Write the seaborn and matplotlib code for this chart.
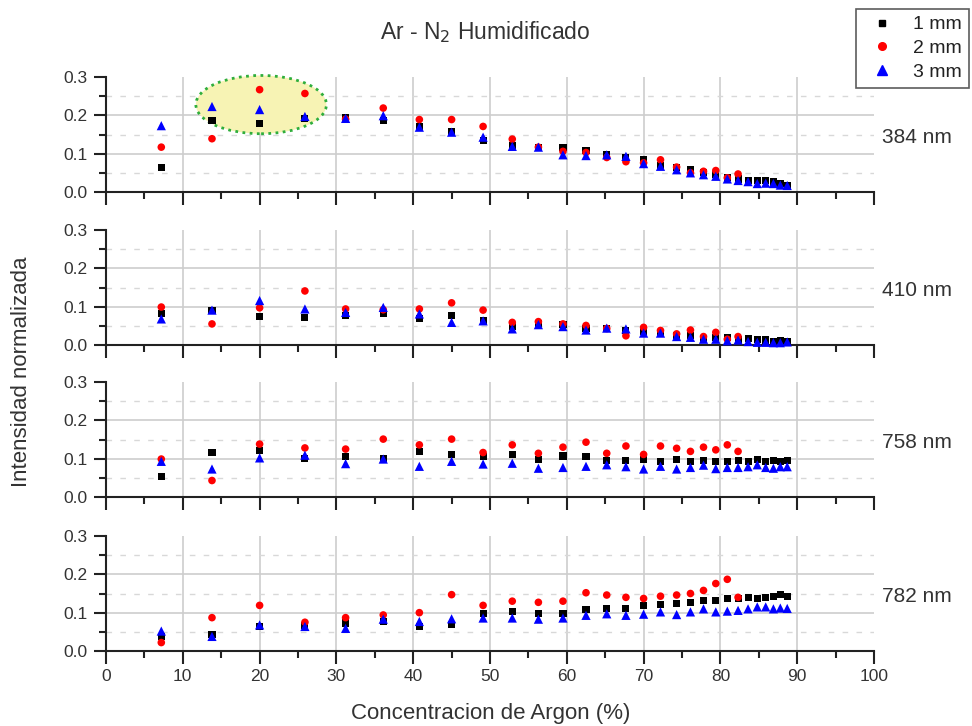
import numpy as np
import pandas as pd
import matplotlib
matplotlib.use("Agg")
import matplotlib.pyplot as plt
from matplotlib.patches import Ellipse
from matplotlib.lines import Line2D
from matplotlib.ticker import MultipleLocator, FormatStrFormatter
import seaborn as sns

sns.set_style("white")
plt.rcParams['font.family'] = ['Liberation Sans', 'DejaVu Sans']

# Argon concentration (%) for each measurement
argon = [7.2, 13.8, 20.0, 25.9, 31.2, 36.1, 40.8, 45.0, 49.1, 52.9, 56.3, 59.5,
         62.5, 65.2, 67.7, 70.0, 72.2, 74.3, 76.1, 77.8, 79.4, 80.9, 82.3, 83.6,
         84.8, 85.9, 86.9, 87.8, 88.7]

series = ["1 mm", "2 mm", "3 mm"]
lines_nm = ["384 nm", "410 nm", "758 nm", "782 nm"]

# 384 nm
i384_1mm = [0.063, 0.187, 0.178, 0.191, 0.193, 0.187, 0.170, 0.159, 0.134, 0.122, 0.117, 0.117, 0.109, 0.097, 0.089,
            0.084, 0.069, 0.065, 0.058, 0.052, 0.045, 0.039, 0.034, 0.030, 0.030, 0.030, 0.026, 0.021, 0.018]
i384_2mm = [0.117, 0.139, 0.267, 0.257, 0.190, 0.219, 0.189, 0.189, 0.171, 0.138, 0.117, 0.106, 0.103, 0.090, 0.079,
            0.076, 0.084, 0.065, 0.050, 0.054, 0.056, 0.037, 0.047]
i384_3mm = [0.173, 0.223, 0.215, 0.197, 0.192, 0.199, 0.169, 0.156, 0.143, 0.119, 0.117, 0.097, 0.095, 0.097, 0.093,
            0.074, 0.067, 0.058, 0.050, 0.045, 0.041, 0.034, 0.030, 0.027, 0.022, 0.023, 0.022, 0.018, 0.017]

# 410 nm
i410_1mm = [0.082, 0.090, 0.075, 0.071, 0.077, 0.081, 0.070, 0.076, 0.065, 0.048, 0.055, 0.053, 0.044, 0.043, 0.037,
            0.035, 0.033, 0.025, 0.025, 0.018, 0.020, 0.020, 0.015, 0.018, 0.015, 0.013, 0.010, 0.011, 0.010]
i410_2mm = [0.099, 0.055, 0.097, 0.141, 0.094, 0.092, 0.094, 0.110, 0.091, 0.059, 0.061, 0.055, 0.051, 0.043, 0.024,
            0.046, 0.038, 0.029, 0.039, 0.022, 0.033, 0.015, 0.022]
i410_3mm = [0.068, 0.091, 0.116, 0.094, 0.085, 0.098, 0.081, 0.059, 0.063, 0.042, 0.053, 0.048, 0.039, 0.044, 0.042,
            0.031, 0.031, 0.022, 0.020, 0.015, 0.015, 0.011, 0.013, 0.009, 0.007, 0.007, 0.006, 0.006, 0.008]

# 758 nm
i758_1mm = [0.053, 0.117, 0.121, 0.100, 0.105, 0.100, 0.118, 0.110, 0.106, 0.110, 0.097, 0.107, 0.105, 0.095, 0.096,
            0.097, 0.093, 0.099, 0.093, 0.096, 0.093, 0.093, 0.096, 0.093, 0.099, 0.093, 0.096, 0.092, 0.095]
i758_2mm = [0.099, 0.043, 0.138, 0.128, 0.125, 0.151, 0.136, 0.151, 0.116, 0.136, 0.114, 0.130, 0.143, 0.114, 0.133,
            0.111, 0.133, 0.127, 0.119, 0.130, 0.123, 0.136, 0.119]
i758_3mm = [0.093, 0.073, 0.102, 0.109, 0.087, 0.099, 0.080, 0.093, 0.086, 0.088, 0.075, 0.077, 0.080, 0.084, 0.079,
            0.073, 0.080, 0.073, 0.077, 0.083, 0.074, 0.077, 0.077, 0.079, 0.084, 0.077, 0.075, 0.079, 0.079]

# 782 nm
i782_1mm = [0.038, 0.044, 0.064, 0.066, 0.073, 0.077, 0.064, 0.070, 0.098, 0.104, 0.099, 0.097, 0.108, 0.110, 0.112,
            0.119, 0.121, 0.124, 0.127, 0.132, 0.132, 0.136, 0.136, 0.139, 0.136, 0.140, 0.143, 0.147, 0.143]
i782_2mm = [0.022, 0.087, 0.119, 0.075, 0.087, 0.094, 0.100, 0.147, 0.119, 0.130, 0.127, 0.130, 0.152, 0.146, 0.140,
            0.137, 0.143, 0.146, 0.150, 0.158, 0.176, 0.187, 0.140]
i782_3mm = [0.052, 0.038, 0.068, 0.064, 0.059, 0.083, 0.077, 0.084, 0.086, 0.086, 0.083, 0.086, 0.093, 0.097, 0.093,
            0.096, 0.102, 0.095, 0.102, 0.110, 0.102, 0.104, 0.106, 0.110, 0.115, 0.115, 0.110, 0.112, 0.111]

panels = {
    "384 nm": (i384_1mm, i384_2mm, i384_3mm),
    "410 nm": (i410_1mm, i410_2mm, i410_3mm),
    "758 nm": (i758_1mm, i758_2mm, i758_3mm),
    "782 nm": (i782_1mm, i782_2mm, i782_3mm),
}

rows = []
for line, vals in panels.items():
    for name, ys in zip(series, vals):
        for xv, yv in zip(argon, ys):
            rows.append({"linea": line, "serie": name, "x": xv, "y": yv})
df = pd.DataFrame(rows)

palette = {"1 mm": "#000000", "2 mm": "#ff0000", "3 mm": "#0000ff"}
markers = {"1 mm": "s", "2 mm": "o", "3 mm": "^"}
sizes = {"1 mm": 26, "2 mm": 30, "3 mm": 44}

W, H = 972, 726
fig = plt.figure(figsize=(W / 100, H / 100), dpi=100)

ax_left, ax_right = 106 / W, 874 / W
panel_tops = [77, 230, 382, 536]
panel_h = 115

grid_c = "#cdcdcd"
dash_c = "#d8d8d8"
ink = "#222222"

axes = []
for k, (line, top) in enumerate(zip(lines_nm, panel_tops)):
    ax = fig.add_axes([ax_left, 1 - (top + panel_h) / H, ax_right - ax_left, panel_h / H])
    axes.append(ax)

    # reference lines
    for gx in range(10, 100, 10):
        ax.axvline(gx, color=grid_c, lw=1.2, zorder=0)
    for gy in (0.1, 0.2):
        ax.axhline(gy, color=grid_c, lw=1.2, zorder=0)
    for gy in (0.05, 0.15, 0.25):
        ax.axhline(gy, color=dash_c, lw=1.0, ls=(0, (4, 6)), zorder=0)

    if k == 0:
        ell = Ellipse((20.2, 0.228), 17.0, 0.152, facecolor="#f7f3b4",
                      edgecolor="#2fae3c", lw=2.0, ls=(0, (1, 1.6)),
                      zorder=1, clip_on=False)
        ax.add_patch(ell)

    sns.scatterplot(data=df[df["linea"] == line], x="x", y="y",
                    hue="serie", style="serie", size="serie",
                    hue_order=series, style_order=series, size_order=series,
                    palette=palette, markers=markers, sizes=sizes,
                    linewidth=0, legend=False, ax=ax, zorder=3, clip_on=False)

    ax.set_xlim(0, 100)
    ax.set_ylim(0, 0.3)
    ax.xaxis.set_major_locator(MultipleLocator(10))
    ax.xaxis.set_minor_locator(MultipleLocator(5))
    ax.yaxis.set_major_locator(MultipleLocator(0.1))
    ax.yaxis.set_minor_locator(MultipleLocator(0.05))
    ax.yaxis.set_major_formatter(FormatStrFormatter("%.1f"))
    ax.tick_params(which="both", bottom=True, left=True, top=False, right=False)
    ax.tick_params(which="major", direction="out", length=9, width=1.5,
                   labelsize=12.5, color=ink, labelcolor="#333333", pad=4)
    ax.tick_params(which="minor", direction="out", length=5, width=1.5, color=ink)
    for side in ("top", "right"):
        ax.spines[side].set_visible(False)
    for side in ("left", "bottom"):
        ax.spines[side].set_color(ink)
        ax.spines[side].set_linewidth(1.5)
    ax.set_xlabel("")
    ax.set_ylabel("")
    if k < 3:
        ax.tick_params(axis="x", labelbottom=False)
    ax.text(1.056, 0.47, line, transform=ax.transAxes, ha="center", va="center",
            fontsize=15, color="#333333")

fig.text(485 / W, 1 - 32 / H, r"Ar - N$_2$ Humidificado", ha="center", va="center",
         fontsize=16.5, color="#333333")
fig.text(22 / W, 1 - 372 / H, "Intensidad normalizada", rotation=90,
         ha="center", va="center", fontsize=16, color="#333333")
fig.text(491 / W, 1 - 713 / H, "Concentracion de Argon (%)", ha="center", va="center",
         fontsize=16, color="#333333")

handles = [Line2D([], [], ls="none", marker=markers[s], color=palette[s],
                  markersize={"1 mm": 5, "2 mm": 5.5, "3 mm": 6.5}[s]) for s in series]
leg = fig.legend(handles, series, loc="upper right", bbox_to_anchor=(969 / W, 1 - 9 / H),
                 frameon=True, fancybox=False, fontsize=14, handlelength=2.0,
                 handletextpad=0.6, borderpad=0.35, labelspacing=0.32, borderaxespad=0)
leg.get_frame().set_edgecolor("#333333")
leg.get_frame().set_linewidth(1.2)
for t in leg.get_texts():
    t.set_color("#222222")

fig.savefig("out.png", dpi=100, facecolor="white")
